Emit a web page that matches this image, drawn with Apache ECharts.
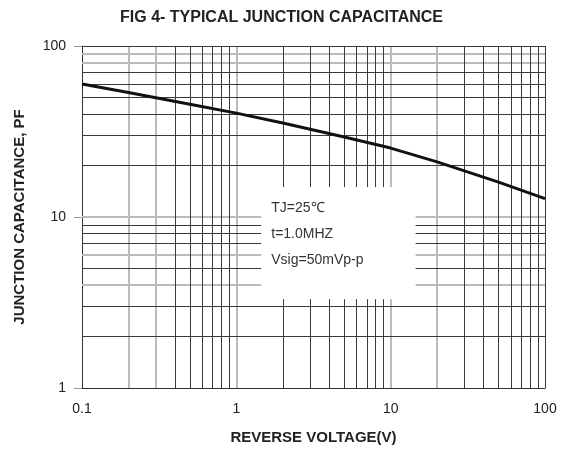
<!DOCTYPE html>
<html>
<head>
<meta charset="utf-8">
<script src="https://cdn.jsdelivr.net/npm/echarts@6/dist/echarts.min.js"></script>
<style>
  html, body { margin: 0; padding: 0; background: #fff; }
  #main { width: 563px; height: 450px; }
</style>
</head>
<body>
<div id="main"></div>
<script>
// reverse voltage (V) and junction capacitance (pF)
var voltage = [0.1, 0.2, 0.5, 1, 2, 5, 10, 20, 50, 100]
var capacitance = [60, 53.4, 45.6, 40.5, 35.5, 29.4, 25.3, 21, 16, 12.8]

// grid lines of the log paper
var vLinesDark = [0.4, 0.5, 0.6, 0.7, 0.8, 0.9, 2, 3, 4, 5, 6, 7, 8, 9, 30, 40, 50, 60, 70, 80, 90, 100]
var vLinesLight = [0.2, 0.3, 1, 10, 20]
var hLinesDark = [2, 3, 5, 7, 8, 9, 20, 30, 40, 50, 60, 70, 100]
var hLinesLight = [4, 6, 10, 80, 90]

// note box corners (voltage, capacitance) and its text
var boxFrom = [1.45, 15]
var boxTo = [14.5, 3.3]
var noteLines = ['TJ=25\u2103', 't=1.0MHZ', 'Vsig=50mVp-p']

var myChart = echarts.init(document.getElementById('main'))

function lines(xs, ys, color, width) {
  var d = []
  xs.forEach(function (v) { d.push({ xAxis: v, lineStyle: { color: color, width: width, type: 'solid' } }) })
  ys.forEach(function (v) { d.push({ yAxis: v, lineStyle: { color: color, width: width, type: 'solid' } }) })
  return d
}

var font = 'Liberation Sans'
var option = {
  animation: false,
  title: {
    text: 'FIG 4- TYPICAL JUNCTION CAPACITANCE',
    left: 'center',
    top: 5,
    textStyle: { fontFamily: font, fontSize: 16, fontWeight: 'bold', color: '#222' }
  },
  grid: { left: 82, right: 18, top: 46, bottom: 62 },
  xAxis: {
    type: 'log',
    logBase: 10,
    min: 0.1,
    max: 100,
    name: 'REVERSE VOLTAGE(V)',
    nameLocation: 'middle',
    nameGap: 42,
    nameTextStyle: { fontFamily: font, fontSize: 15, fontWeight: 'bold', color: '#222' },
    axisLine: { lineStyle: { color: '#333', width: 1 } },
    axisTick: { show: false },
    splitLine: { show: false },
    axisLabel: { fontFamily: font, fontSize: 14, color: '#222', margin: 14 }
  },
  yAxis: {
    type: 'log',
    logBase: 10,
    min: 1,
    max: 100,
    name: 'JUNCTION CAPACITANCE, PF',
    nameLocation: 'middle',
    nameGap: 55,
    nameTextStyle: { fontFamily: font, fontSize: 15, fontWeight: 'bold', color: '#222' },
    axisLine: { show: true, lineStyle: { color: '#333', width: 1 } },
    axisTick: { show: true, inside: false, length: 8, lineStyle: { color: '#999' } },
    splitLine: { show: false },
    axisLabel: { fontFamily: font, fontSize: 14, color: '#222', margin: 16 }
  },
  series: [
    {
      type: 'line',
      z: 1,
      data: [],
      silent: true,
      markLine: {
        z: 1,
        silent: true,
        symbol: 'none',
        label: { show: false },
        animation: false,
        data: lines(vLinesLight, hLinesLight, '#bbb', 2).concat(lines(vLinesDark, hLinesDark, '#3a3a3a', 1))
      }
    },
    {
      type: 'custom',
      z: 2,
      silent: true,
      data: [[boxFrom[0], boxFrom[1], boxTo[0], boxTo[1]]],
      renderItem: function (params, api) {
        var p0 = api.coord([api.value(0), api.value(1)])
        var p1 = api.coord([api.value(2), api.value(3)])
        return {
          type: 'group',
          children: [
            {
              type: 'rect',
              shape: { x: p0[0], y: p0[1], width: p1[0] - p0[0], height: p1[1] - p0[1] },
              style: { fill: '#fff' }
            },
            {
              type: 'text',
              x: p0[0] + 10,
              y: p0[1] + 8,
              style: {
                text: noteLines.join('\n'),
                fontFamily: font,
                fontSize: 14,
                lineHeight: 26,
                fill: '#333'
              }
            }
          ]
        }
      }
    },
    {
      type: 'line',
      z: 3,
      smooth: false,
      symbol: 'none',
      lineStyle: { color: '#111', width: 3, join: 'round' },
      data: voltage.map(function (v, i) { return [v, capacitance[i]] })
    }
  ]
}
myChart.setOption(option)
</script>
</body>
</html>
